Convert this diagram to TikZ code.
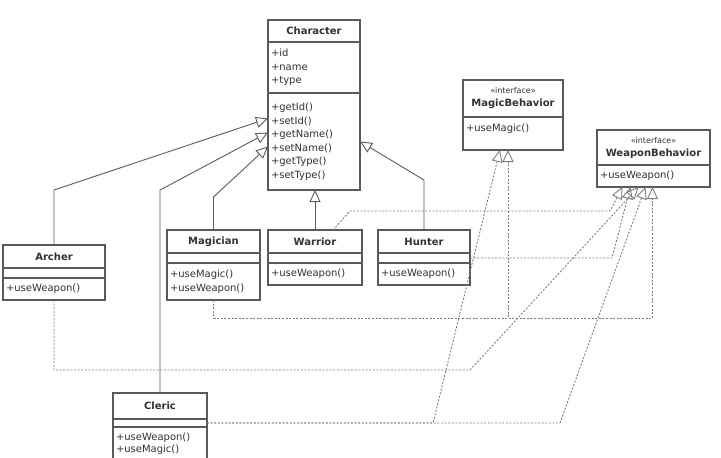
\documentclass[tikz,border=0pt]{standalone}
\usepackage{fontspec}
\setmainfont{DejaVu Sans}
\usetikzlibrary{arrows.meta,positioning}
\definecolor{umlline}{RGB}{90,90,90}
\definecolor{umldash}{RGB}{125,125,125}
\definecolor{umltext}{RGB}{50,50,50}
\tikzset{
    cls/.style={rectangle, draw=umlline, line width=1.1pt, fill=white,
                outer sep=0pt, inner ysep=1pt, text=umltext},
    hdr/.style={cls, minimum width=#1, align=center,
                font=\fontsize{10}{13}\selectfont\bfseries},
    sec/.style={cls, inner xsep=3pt, text width=#1, align=left,
                font=\fontsize{10}{13.5}\selectfont},
    gen/.style={-{Triangle[open,length=12pt,width=11pt]}, umlline, line width=0.9pt},
    real/.style={-{Triangle[open,length=12pt,width=11pt]}, umldash, line width=0.9pt,
                 dash pattern=on 2pt off 1.6pt},
}
\newcommand{\stereo}{{\fontsize{8}{9}\selectfont\mdseries «interface»}}

\begin{document}
\begin{tikzpicture}[x=1pt, y=-1pt]
    \useasboundingbox (0,0) rectangle (721,458);

    % base class
    \node[hdr=92pt, minimum height=22pt] (chr) at (314,31) {Character};
    \node[sec=86pt, minimum height=51pt, below=0pt of chr] (chrA) {+id\\+name\\+type};
    \node[sec=86pt, minimum height=97pt, below=0pt of chrA] (chrM)
        {+getId()\\+setId()\\+getName()\\+setName()\\+getType()\\+setType()};

    % interfaces
    \node[hdr=100pt, minimum height=37pt] (mb) at (513,98.5) {\stereo\\MagicBehavior};
    \node[sec=94pt, minimum height=33pt, text depth=12pt, below=0pt of mb] (mbM) {+useMagic()};
    \node[hdr=113pt, minimum height=35pt] (wb) at (653.5,147.5) {\stereo\\WeaponBehavior};
    \node[sec=107pt, minimum height=22pt, below=0pt of wb] (wbM) {+useWeapon()};

    % subclasses
    \node[hdr=102pt, minimum height=23pt] (arch) at (54,256.5) {Archer};
    \node[sec=96pt, minimum height=10pt, below=0pt of arch] (archE) {};
    \node[sec=96pt, minimum height=22pt, below=0pt of archE] (archM) {+useWeapon()};

    \node[hdr=93pt, minimum height=23pt] (mag) at (213.5,241.5) {Magician};
    \node[sec=87pt, minimum height=10pt, below=0pt of mag] (magE) {};
    \node[sec=87pt, minimum height=37pt, below=0pt of magE] (magM) {+useMagic()\\+useWeapon()};

    \node[hdr=94pt, minimum height=23pt] (war) at (315,241.5) {Warrior};
    \node[sec=88pt, minimum height=10pt, below=0pt of war] (warE) {};
    \node[sec=88pt, minimum height=22pt, below=0pt of warE] (warM) {+useWeapon()};

    \node[hdr=92pt, minimum height=23pt] (hun) at (424,241.5) {Hunter};
    \node[sec=86pt, minimum height=10pt, below=0pt of hun] (hunE) {};
    \node[sec=86pt, minimum height=22pt, below=0pt of hunE] (hunM) {+useWeapon()};

    \node[hdr=94pt, minimum height=26pt] (cle) at (160,406) {Cleric};
    \node[sec=88pt, minimum height=8pt, below=0pt of cle] (cleE) {};
    \node[sec=88pt, minimum height=33pt, font=\fontsize{10}{12}\selectfont,
          below=0pt of cleE] (cleM) {+useWeapon()\\+useMagic()};

    % inheritance
    \draw[gen] (arch.north) -- ++(0,-55) -- ([yshift=23pt]chrM.west);
    \draw[gen] (cle.north) -- ++(0,-203) -- ([yshift=9pt]chrM.west);
    \draw[gen] (mag.north) -- ++(0,-33) -- ([yshift=-5pt]chrM.west);
    \draw[gen] (war.north) -- (war.north |- chrM.south);
    \draw[gen] (hun.north) -- ++(0,-50) -- (chrM.east);

    % realization
    \draw[real] ([xshift=18pt]war.north) -- ++(17,-19) -- ++(260,0) -- ([xshift=-31pt]wbM.south);
    \draw[real] (hunE.east) -- ++(142,0) -- ([xshift=-23pt]wbM.south);
    \draw[real] (archM.south) -- ++(0,70) -- ++(416,0) -- ([xshift=-15pt]wbM.south);
    \draw[real] (magM.south) -- ++(0,18) -| ([xshift=-1pt]wbM.south);
    \draw[real] (magM.south) -- ++(0,18) -| ([xshift=-5pt]mbM.south);
    \draw[real] (cleE.east) -- ++(226,0) -- ([xshift=-13pt]mbM.south);
    \draw[real] (cleE.east) -- ++(353,0) -- ([xshift=-8pt]wbM.south);
\end{tikzpicture}
\end{document}
